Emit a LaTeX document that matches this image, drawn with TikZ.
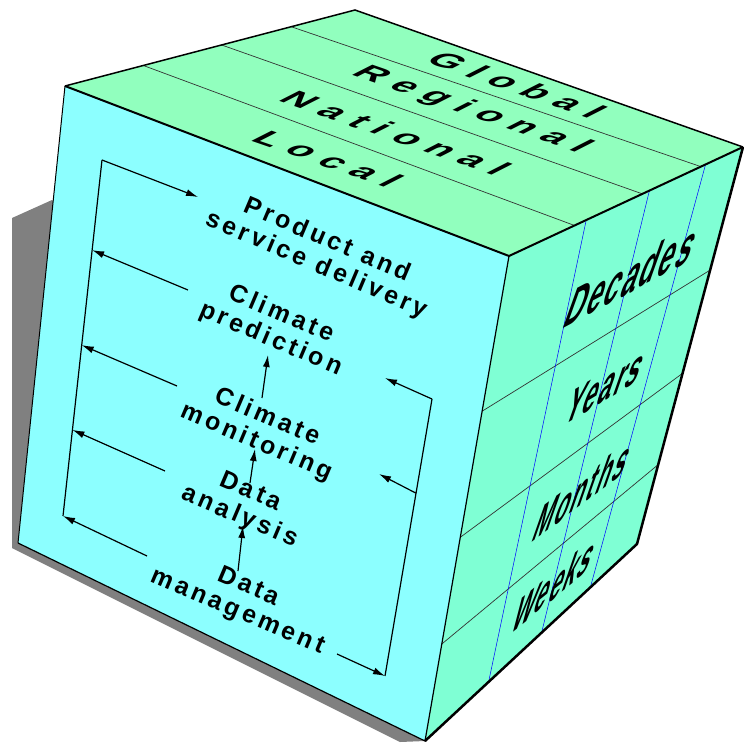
\documentclass[tikz,border=0pt]{standalone}
\usepackage{fontspec}
\usepackage{xcolor}
\usepackage{tikz}
\usetikzlibrary{arrows.meta, calc}

\setmainfont{Liberation Sans}
\newfontfamily\facefont[LetterSpace=14]{Liberation Sans}
\newfontfamily\topfont[LetterSpace=30]{Liberation Sans}
\newfontfamily\sidefont[LetterSpace=8]{Liberation Sans}

\definecolor{frontcyan}{RGB}{140,255,255}
\definecolor{topgreen}{RGB}{145,255,190}
\definecolor{sideaqua}{RGB}{127,255,212}
\definecolor{shadowgray}{RGB}{128,128,128}

\begin{document}
\begin{tikzpicture}[x=1pt, y=-1pt,
    facelbl/.style={font=\facefont\bfseries\fontsize{25}{27}\selectfont, align=center, inner sep=0pt, rotate=-23},
    toplbl/.style={font=\topfont\bfseries\fontsize{38}{40}\selectfont, inner sep=0pt, rotate=-19, xslant=0.97, yscale=0.62},
    sidelbl/.style={font=\sidefont\bfseries\fontsize{29}{31}\selectfont, inner sep=0pt},
    stripline/.style={line width=0.7pt, black!80},
    loopline/.style={line width=1.2pt},
    link/.style={-{Latex[length=12pt, width=7pt]}, line width=1.2pt}]

    \useasboundingbox (0,0) rectangle (744,742);

    % cube corners
    \coordinate (F1) at (65,86);
    \coordinate (F2) at (509,256);
    \coordinate (F3) at (425,741);
    \coordinate (F4) at (18,543);
    \coordinate (T1) at (355,10);
    \coordinate (T2) at (743,147);
    \coordinate (R3) at (637,544);

    % shadow and faces
    \fill[shadowgray] (12,218) -- (52,200) -- (F3) -- (400,742) -- (12,548) -- cycle;
    \fill[frontcyan] (F1) -- (F2) -- (F3) -- (F4) -- cycle;
    \fill[topgreen] (F1) -- (T1) -- (T2) -- (F2) -- cycle;
    \fill[sideaqua] (F2) -- (T2) -- (R3) -- (F3) -- cycle;

    % strips on top and side
    \foreach \a/\b in {0.27/0.28, 0.54/0.57, 0.78/0.82}
        \draw[stripline] ($(F1)!\a!(T1)$) -- ($(F2)!\b!(T2)$);
    \foreach \a/\b in {0.32/0.31, 0.58/0.57, 0.80/0.80}
        \draw[stripline] ($(F2)!\a!(F3)$) -- ($(T2)!\b!(R3)$);
    \foreach \a/\b in {0.33/0.30, 0.60/0.55, 0.84/0.78}
        \draw[blue, line width=0.5pt] ($(F2)!\a!(T2)$) -- ($(F3)!\b!(R3)$);

    % outline
    \draw[line width=1pt] (F4) -- (F1);
    \draw[line width=1.5pt] (F1) -- (T1) -- (T2);
    \draw[line width=2pt] (F1) -- (F2) -- (T2);
    \draw[line width=1.2pt] (F2) -- (F3) -- (F4);
    \draw[line width=2.5pt, line join=round] (T2) -- (R3) -- (F3);

    % scale labels
    \node[toplbl] (local) at (328,159) {Local};
    \node[toplbl] (national) at (396,133) {National};
    \node[toplbl] (regional) at (471,110) {Regional};
    \node[toplbl] (global) at (517,85) {Global};

    \node[sidelbl, font=\sidefont\bfseries\fontsize{31}{33}\selectfont, rotate=28, xslant=1.1, yscale=1.35] (decades) at (632,275) {Decades};
    \node[sidelbl, rotate=31, xslant=1.2, yscale=1.25] (years) at (606,386) {Years};
    \node[sidelbl, rotate=37, xslant=1.5, yscale=1.1] (months) at (583,490) {Months};
    \node[sidelbl, rotate=39, xslant=1.6, yscale=1.05] (weeks) at (555,584) {Weeks};

    % activities
    \node[facelbl] (product) at (322,253) {Product\hspace{0.45em}and\\service\hspace{0.45em}delivery};
    \node[facelbl] (predict) at (276,327) {Climate\\prediction};
    \node[facelbl] (monitor) at (262,430) {Climate\\monitoring};
    \node[facelbl] (analysis) at (245,505) {Data\\analysis};
    \node[facelbl] (manage) at (243,600) {Data\\management};

    % loop round the activities
    \coordinate (cTL) at (102,160);
    \coordinate (cBL) at (63,516);
    \coordinate (cTR) at (432,399);
    \coordinate (cBR) at (385,676);
    \draw[loopline] (cTL) -- (cBL);
    \draw[loopline] (cTR) -- (cBR);

    \coordinate (toProduct) at (198,197);
    \draw[link] (cTL) -- (toProduct);
    \coordinate (fromManage) at (337,654);
    \draw[link] (fromManage) -- (cBR);

    \foreach \i/\t/\x/\y in {1/0.253/188/290, 2/0.52/177/386, 3/0.758/165/471, 4/1.0/147/556} {
        \coordinate (back\i) at (\x,\y);
        \coordinate (left\i) at ($(cTL)!\t!(cBL)$);
        \draw[link] (back\i) -- (left\i);
    }

    \coordinate (toPredict) at (385,378);
    \draw[link] (cTR) -- (toPredict);
    \coordinate (right2) at ($(cTR)!0.34!(cBR)$);
    \coordinate (toMonitor) at (379,474);
    \draw[link] (right2) -- (toMonitor);

    % upward steps
    \coordinate (up1a) at (238,571); \coordinate (up1b) at (243,526);
    \coordinate (up2a) at (250,483); \coordinate (up2b) at (255,449);
    \coordinate (up3a) at (262,398); \coordinate (up3b) at (268,355);
    \draw[link] (up1a) -- (up1b);
    \draw[link] (up2a) -- (up2b);
    \draw[link] (up3a) -- (up3b);
\end{tikzpicture}
\end{document}
